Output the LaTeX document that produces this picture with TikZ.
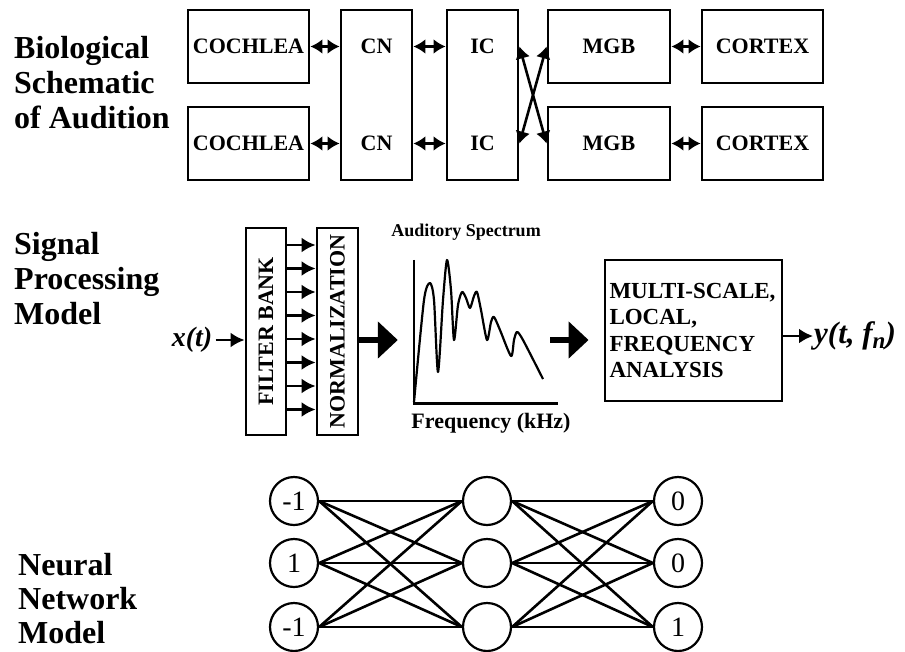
\documentclass[tikz,border=0pt]{standalone}
\usepackage{fontspec}
\setmainfont{Liberation Serif}
\usetikzlibrary{arrows.meta,positioning,calc}

\begin{document}
\begin{tikzpicture}[x=1pt,y=-1pt,
    box/.style={draw,line width=2.9pt,inner sep=0pt,font=\fontsize{22}{26}\selectfont\bfseries},
    lbl/.style={font=\fontsize{22}{26}\selectfont\bfseries},
    title/.style={align=left,anchor=west,inner sep=0pt,font=\fontsize{32}{35}\selectfont\bfseries},
    dbl/.style={{Latex[length=12pt,width=15pt]}-{Latex[length=12pt,width=15pt]},line width=2.6pt},
    sarrow/.style={-{Latex[length=14pt,width=15pt]},line width=2.6pt},
    fat/.style={-{Triangle[length=20pt,width=36pt]},line width=5.5pt},
    neuron/.style={draw,circle,line width=2.2pt,minimum size=48pt,inner sep=0pt,font=\fontsize{28}{30}\selectfont},
    wire/.style={line width=2.6pt}]

    \useasboundingbox (0,0) rectangle (905,651);

    % Biological schematic
    \node[title] (tbio) at (14,83) {Biological\\Schematic\\of Audition};
    \node[box,minimum width=121,minimum height=73] (coch1) at (248.5,46.5) {COCHLEA};
    \node[box,minimum width=121,minimum height=73] (coch2) at (248.5,143.5) {COCHLEA};
    \node[box,minimum width=71,minimum height=170] (cn) at (376.5,95) {};
    \node[box,minimum width=71,minimum height=170] (ic) at (482.5,95) {};
    \node[lbl] (cn1) at (cn.center |- coch1) {CN};
    \node[lbl] (cn2) at (cn.center |- coch2) {CN};
    \node[lbl] (ic1) at (ic.center |- coch1) {IC};
    \node[lbl] (ic2) at (ic.center |- coch2) {IC};
    \node[box,minimum width=122,minimum height=73] (mgb1) at (609,46.5) {MGB};
    \node[box,minimum width=122,minimum height=73] (mgb2) at (609,143.5) {MGB};
    \node[box,minimum width=121,minimum height=73] (ctx1) at (762.5,46.5) {CORTEX};
    \node[box,minimum width=121,minimum height=73] (ctx2) at (762.5,143.5) {CORTEX};

    \draw[dbl] (coch1.east) -- (cn.west |- coch1.east);
    \draw[dbl] (coch2.east) -- (cn.west |- coch2.east);
    \draw[dbl] (cn.east |- cn1) -- (ic.west |- ic1);
    \draw[dbl] (cn.east |- cn2) -- (ic.west |- ic2);
    \draw[dbl] (ic.east |- mgb1.west) -- (mgb2.west);
    \draw[dbl] (ic.east |- mgb2.west) -- (mgb1.west);
    \draw[dbl] (mgb1.east) -- (ctx1.west);
    \draw[dbl] (mgb2.east) -- (ctx2.west);

    % Signal processing model
    \node[title] (tsig) at (14,279) {Signal\\Processing\\Model};
    \node[font=\fontsize{28}{32}\selectfont\bfseries\itshape] (xt) at (192,340) {x(t)};
    \node[box,minimum width=40,minimum height=207] (fb) at (266,331.5) {};
    \node[box,minimum width=41,minimum height=207] (norm) at (337.5,331.5) {};
    \node[lbl,rotate=90] (fbtxt) at (fb.center) {FILTER BANK};
    \node[lbl,rotate=90] (normtxt) at (norm.center) {NORMALIZATION};
    \draw[sarrow] (xt.east) -- (fb.west |- xt);
    \foreach \y in {245,268.5,292,315.5,339,362.5,386,409.5}{
      \draw[sarrow] (fb.east |- 0,\y) -- (norm.west |- 0,\y);
    }

    \node[minimum width=144,minimum height=143,inner sep=0pt] (spec) at (486,331.5) {};
    \node[font=\fontsize{18}{22}\selectfont\bfseries] (spectxt) at (466,232) {Auditory Spectrum};
    \node[font=\fontsize{22}{25}\selectfont\bfseries] (freqtxt) at (491,423) {Frequency (kHz)};
    \draw[line width=2.6pt] (spec.north west) -- (spec.south west) -- (spec.south east);
    \draw[line width=2.2pt,line join=round] plot[smooth,tension=0.45] coordinates {
      (414,402) (424,300) (430,283) (434,300) (438,372) (443,300) (447,260)
      (451,290) (454,340) (458,305) (462,292) (466,298) (470,308) (474,296)
      (477,292) (481,310) (487,340) (491,322) (494,317) (500,330) (511,356)
      (514,340) (517,332) (523,340) (543,379)};

    \node[box,minimum width=177,minimum height=141,text width=168pt,inner xsep=4.5pt,align=left,
      font=\fontsize{23}{26.5}\selectfont\bfseries]
      (msa) at (693.5,330.5) {MULTI-SCALE,\\LOCAL,\\FREQUENCY\\ANALYSIS};
    \node[font=\fontsize{31}{34}\selectfont\bfseries\itshape,anchor=west,inner xsep=1pt] (yt) at (813,336)
      {y(t, f\raisebox{-0.35ex}{\fontsize{23}{24}\selectfont n})};

    \draw[fat,shorten >=16pt] (norm.east |- xt) -- (spec.west |- xt);
    \draw[fat,shorten <=-8pt,shorten >=15pt] (spec.east |- xt) -- (msa.west |- xt);
    \draw[sarrow] (msa.east |- yt) -- (yt.west);

    % Neural network model
    \node[title,font=\fontsize{32}{34}\selectfont\bfseries] (tnn) at (18,599) {Neural\\Network\\Model};
    \foreach \i/\y/\a/\b in {1/501/-1/0,2/563/1/0,3/627/-1/1}{
      \node[neuron] (in\i) at (294,\y) {\a};
      \node[neuron] (hid\i) at (487,\y) {};
      \node[neuron] (out\i) at (678,\y) {\b};
    }
    \foreach \a in {1,2,3}{
      \foreach \b in {1,2,3}{
        \draw[wire] (in\a.east) -- (hid\b.west);
        \draw[wire] (hid\a.east) -- (out\b.west);
      }
    }

\end{tikzpicture}
\end{document}
